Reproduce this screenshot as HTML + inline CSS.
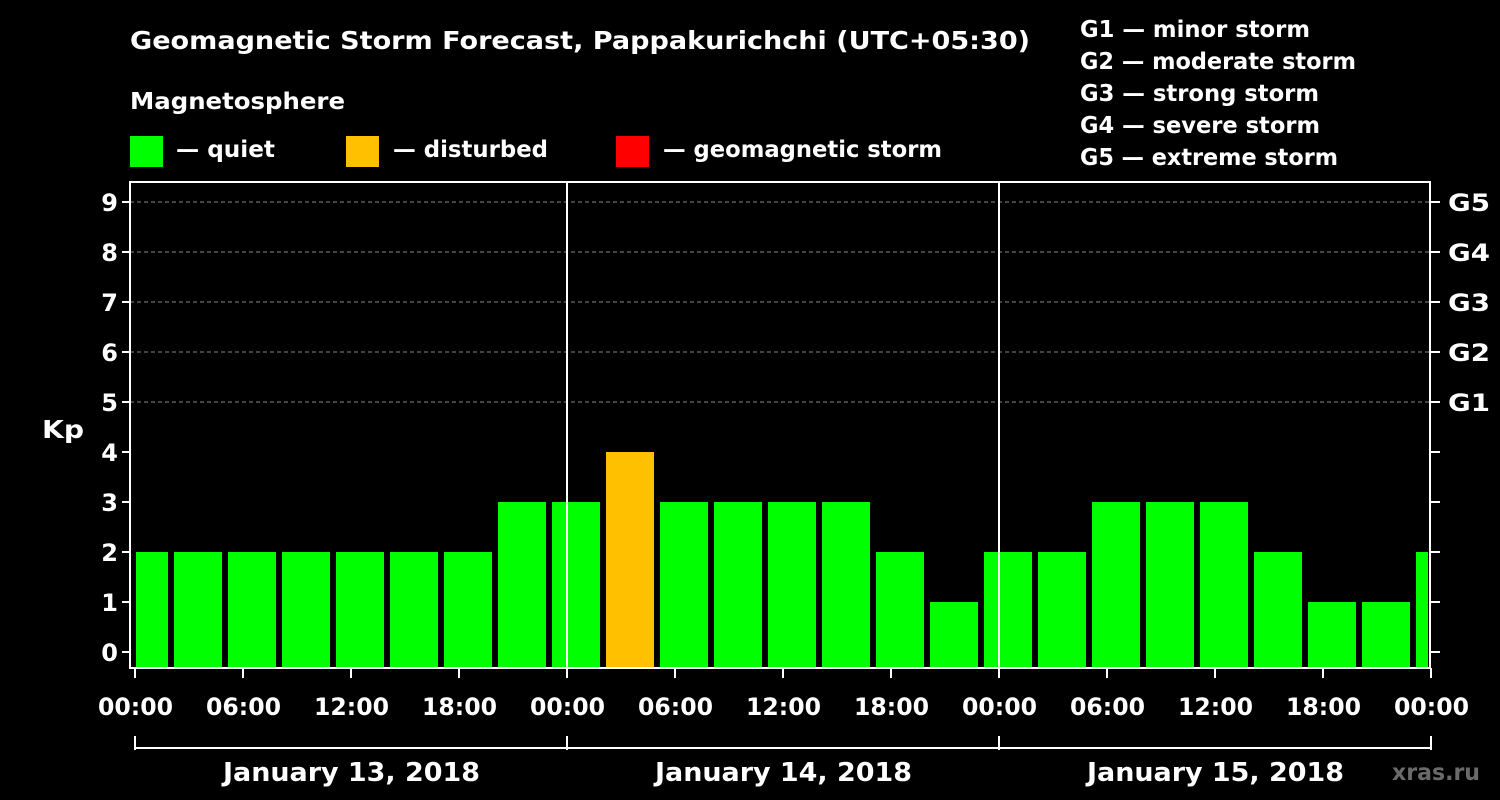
<!DOCTYPE html>
<html><head><meta charset="utf-8">
<style>
html,body{margin:0;padding:0;background:#000;}
svg{display:block;}
text{font-family:"DejaVu Sans","Liberation Sans",sans-serif;font-weight:bold;fill:#fff;}
</style></head>
<body>
<svg id="chart" width="1500" height="800" viewBox="0 0 1500 800">
  <text x="130" y="49" font-size="25" textLength="900" lengthAdjust="spacingAndGlyphs">Geomagnetic Storm Forecast, Pappakurichchi (UTC+05:30)</text>
  <text x="130" y="109" font-size="23" textLength="215" lengthAdjust="spacingAndGlyphs">Magnetosphere</text>
  <g>
    <rect x="130" y="136" width="33" height="31" fill="#00ff00"/>
    <text x="176" y="157" font-size="23" textLength="99" lengthAdjust="spacingAndGlyphs">— quiet</text>
  </g>
  <g>
    <rect x="346" y="136" width="33" height="31" fill="#ffc000"/>
    <text x="393" y="157" font-size="23" textLength="155" lengthAdjust="spacingAndGlyphs">— disturbed</text>
  </g>
  <g>
    <rect x="616" y="136" width="33" height="31" fill="#ff0000"/>
    <text x="663" y="157" font-size="23" textLength="279" lengthAdjust="spacingAndGlyphs">— geomagnetic storm</text>
  </g>
  <g font-size="23">
    <text x="1080" y="37" textLength="230" lengthAdjust="spacingAndGlyphs">G1 — minor storm</text>
    <text x="1080" y="69" textLength="276" lengthAdjust="spacingAndGlyphs">G2 — moderate storm</text>
    <text x="1080" y="101" textLength="239" lengthAdjust="spacingAndGlyphs">G3 — strong storm</text>
    <text x="1080" y="133" textLength="240" lengthAdjust="spacingAndGlyphs">G4 — severe storm</text>
    <text x="1080" y="165" textLength="258" lengthAdjust="spacingAndGlyphs">G5 — extreme storm</text>
  </g>
  <text x="42" y="438" font-size="25" textLength="42" lengthAdjust="spacingAndGlyphs">Kp</text>
  <text x="1392" y="780" font-size="23" textLength="88" lengthAdjust="spacingAndGlyphs" style="fill:#6a6a6a">xras.ru</text>
  <g id="plot"></g>
</svg>
<script>
const kpValues = [2,2,2,2,2,2,2,3,3,4,3,3,3,3,2,1,2,2,3,3,3,2,1,1,2];
const yTicks = [0,1,2,3,4,5,6,7,8,9];
const gLabels = ["G1","G2","G3","G4","G5"];
const xTickLabels = ["00:00","06:00","12:00","18:00","00:00","06:00","12:00","18:00","00:00","06:00","12:00","18:00","00:00"];
const dayLabels = ["January 13, 2018","January 14, 2018","January 15, 2018"];

const NS="http://www.w3.org/2000/svg";
const plot=document.getElementById('plot');
const L=130,R=1430,T=182,B=668;
const x0=135, pxPerHour=18;
const yS=v=>652-50*v;
const xS=h=>x0+h*pxPerHour;
function mk(tag,attrs,parent){const e=document.createElementNS(NS,tag);for(const k in attrs)e.setAttribute(k,attrs[k]);(parent||plot).appendChild(e);return e;}

const defs=mk('defs',{});
const cp=mk('clipPath',{id:'pc'},defs);
mk('rect',{x:136,y:T,width:1292,height:B-T},cp);

for(let v=5;v<=9;v++){
  const g=mk('line',{x1:L,x2:R,y1:yS(v),y2:yS(v),stroke:'#888','stroke-width':1,'stroke-dasharray':'4,3'});
  
  
}
const bg=mk('g',{'clip-path':'url(#pc)'});
kpValues.forEach((v,i)=>{
  const c=xS(3.5+3*(i-1));
  const col=v>=5?'#ff0000':(v>=4?'#ffc000':'#00ff00');
  const r=mk('rect',{x:c-24,y:yS(v),width:48,height:B-yS(v),fill:col},bg);
  
  
});
[1,2].forEach(d=>{
  const l=mk('line',{x1:xS(24*d),x2:xS(24*d),y1:T,y2:B,stroke:'#fff','stroke-width':2});
  
  
});
const f=mk('rect',{x:L,y:T,width:R-L,height:B-T,fill:'none',stroke:'#fff','stroke-width':2});


yTicks.forEach(v=>{
  mk('line',{x1:L-8,x2:L,y1:yS(v),y2:yS(v),stroke:'#fff','stroke-width':2});
  mk('line',{x1:R,x2:R+10,y1:yS(v),y2:yS(v),stroke:'#fff','stroke-width':2});
  const t=mk('text',{x:L-12,y:yS(v)+9,'text-anchor':'end','font-size':24});
  t.textContent=v;
  
  
});
gLabels.forEach((g,i)=>{
  const t=mk('text',{x:1448,y:yS(5+i)+9,'font-size':24,textLength:42,lengthAdjust:'spacingAndGlyphs'});
  t.textContent=g;
  
  
});
xTickLabels.forEach((s,i)=>{
  const x=xS(6*i);
  mk('line',{x1:x,x2:x,y1:B,y2:B+10,stroke:'#fff','stroke-width':2});
  const t=mk('text',{x:x-37,y:715,'font-size':24,textLength:75,lengthAdjust:'spacingAndGlyphs'});
  t.textContent=s;
  
  
});
mk('line',{x1:xS(0),x2:xS(72),y1:748,y2:748,stroke:'#fff','stroke-width':2});
[0,1,2,3].forEach(d=>mk('line',{x1:xS(24*d),x2:xS(24*d),y1:736,y2:750,stroke:'#fff','stroke-width':2}));
dayLabels.forEach((s,i)=>{
  const t=mk('text',{x:xS(24*i+12)-128,y:781,'font-size':26,textLength:257,lengthAdjust:'spacingAndGlyphs'});
  t.textContent=s;
  
  
});
</script>
</body></html>
